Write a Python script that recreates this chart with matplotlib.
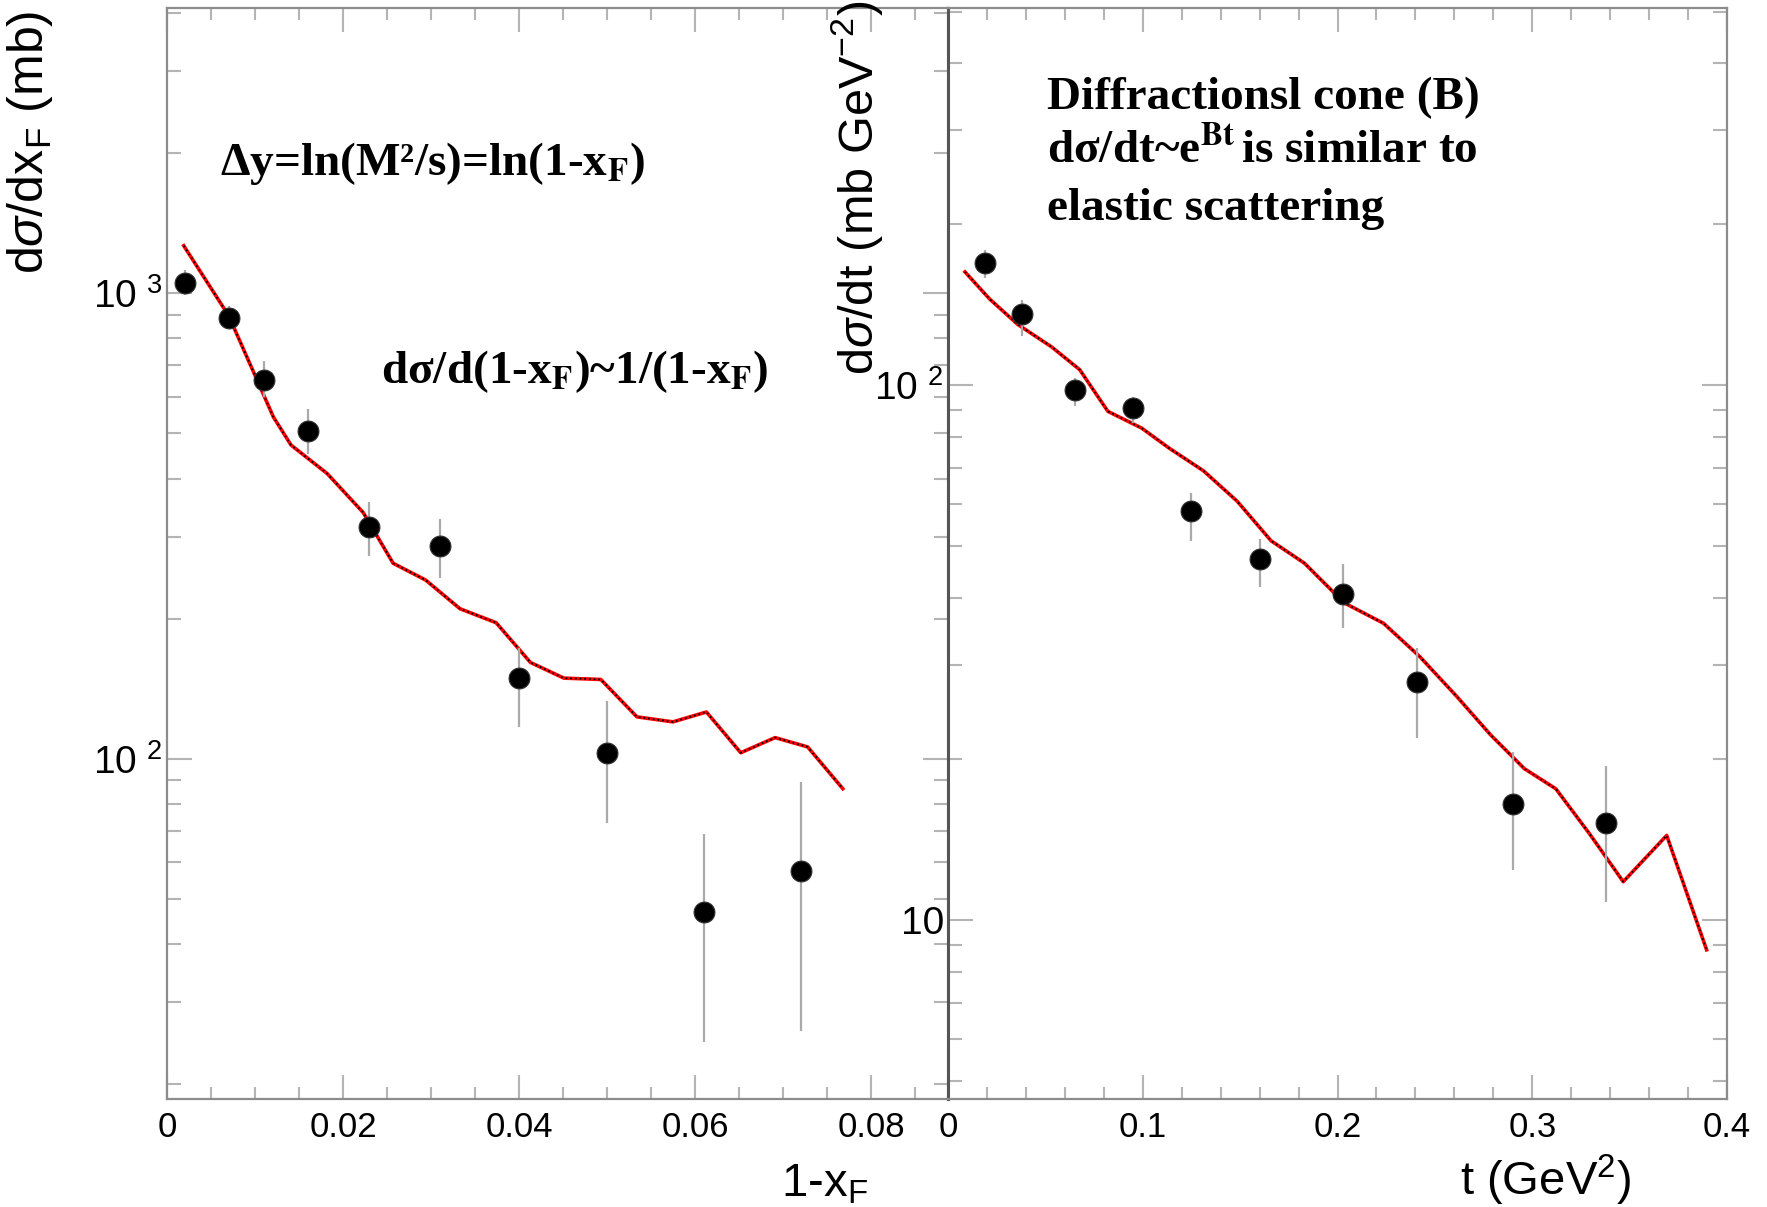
import matplotlib
matplotlib.use("Agg")
import numpy as np
import matplotlib.pyplot as plt
from matplotlib.ticker import MultipleLocator, LogLocator, FuncFormatter, NullFormatter

# left panel: d sigma / d x_F versus 1-x_F
xf_pts = [0.002, 0.007, 0.011, 0.016, 0.023, 0.031, 0.040, 0.050, 0.061, 0.072]
xf_val = [1053, 885, 652, 505, 314, 287, 149, 103, 46.9, 57.3]
xf_lo = [990, 838, 600, 451, 273, 244, 117, 72.9, 24.6, 26.0]
xf_hi = [1120, 937, 717, 564, 357, 328, 173, 133, 68.9, 89.1]

xf_mc_x = [0.0019, 0.0070, 0.0121, 0.0141, 0.0182, 0.0223, 0.0257, 0.0294, 0.0333,
           0.0374, 0.0413, 0.0451, 0.0493, 0.0534, 0.0575, 0.0613, 0.0652, 0.0691,
           0.0728, 0.0768]
xf_mc_y = [1266, 896, 542, 472, 410, 338, 263, 242, 210, 196, 161, 149, 148, 123,
           120, 126, 103, 111, 106, 86.2]

# right panel: d sigma / dt versus t
t_pts = [0.019, 0.038, 0.065, 0.095, 0.125, 0.160, 0.203, 0.241, 0.290, 0.338]
t_val = [169.6, 135.7, 98.0, 90.7, 58.3, 47.4, 40.7, 27.9, 16.5, 15.2]
t_lo = [159, 123.7, 91.6, 85.2, 51.2, 42.0, 35.2, 21.9, 12.4, 10.8]
t_hi = [179, 144.5, 103.4, 95.2, 63.0, 51.7, 46.4, 32.3, 20.6, 19.4]

t_mc_x = [0.0087, 0.0214, 0.0358, 0.0532, 0.0676, 0.0821, 0.0994, 0.1138, 0.1312,
          0.1485, 0.1659, 0.1830, 0.2034, 0.2236, 0.2422, 0.2612, 0.2786, 0.2959,
          0.3121, 0.3294, 0.3467, 0.3690, 0.3895]
t_mc_y = [163, 145, 130, 118, 107, 89.4, 83.2, 76.2, 69.2, 60.7, 51.2, 46.5, 39.2,
          35.9, 31.1, 26.2, 22.2, 19.2, 17.6, 14.5, 11.8, 14.4, 8.8]

plt.rcParams['font.family'] = ['Liberation Sans', 'DejaVu Sans']
plt.rcParams['mathtext.fontset'] = 'custom'
plt.rcParams['mathtext.rm'] = 'Liberation Sans'
plt.rcParams['mathtext.it'] = 'Liberation Sans:italic'
plt.rcParams['mathtext.bf'] = 'Liberation Sans:bold'

SPINE = '#8c8c8c'
TICK = '#b4b4b4'

fig = plt.figure(figsize=(17.67, 12.07), dpi=100)
ax1 = fig.add_axes([0.0945, 0.0895, 0.4420, 0.9036])
ax2 = fig.add_axes([0.5365, 0.0895, 0.4409, 0.9036])


def ylab(v, pos):
    e = int(round(np.log10(v)))
    if e == 1:
        return "10"
    return r"$10^{\;\,%d}$" % e


def style(ax, xmajor, xminor):
    ax.set_yscale('log')
    for s in ax.spines.values():
        s.set_color(SPINE)
        s.set_linewidth(1.6)
    ax.xaxis.set_major_locator(MultipleLocator(xmajor))
    ax.xaxis.set_minor_locator(MultipleLocator(xminor))
    ax.yaxis.set_major_locator(LogLocator(base=10))
    ax.yaxis.set_minor_locator(LogLocator(base=10, subs=np.arange(2, 10)))
    ax.yaxis.set_major_formatter(FuncFormatter(ylab))
    ax.yaxis.set_minor_formatter(NullFormatter())
    ax.tick_params(which='both', direction='in', top=True, right=True,
                   color=TICK, width=1.5)
    ax.tick_params(axis='x', which='major', length=17, pad=9, labelsize=25)
    ax.tick_params(axis='x', which='minor', length=8.5)
    ax.tick_params(axis='y', which='major', length=18, pad=3, labelsize=28)
    ax.tick_params(axis='y', which='minor', length=10)
    for lab in ax.get_xticklabels():
        lab.set_fontfamily(['Liberation Sans Narrow', 'Liberation Sans'])


def draw(ax, x, v, lo, hi, mx, my):
    v = np.array(v)
    err = [v - np.array(lo), np.array(hi) - v]
    ax.plot(mx, my, color='red', lw=2.6, zorder=2)
    ax.plot(mx, my, color='black', lw=1.3, dashes=(1, 1.6), zorder=3)
    ax.errorbar(x, v, yerr=err, fmt='none', ecolor='#aaaaaa', elinewidth=1.6,
                capsize=0, zorder=4)
    ax.plot(x, v, 'o', color='black', ms=15, mec='#333333', mew=0.8, zorder=5)


draw(ax1, xf_pts, xf_val, xf_lo, xf_hi, xf_mc_x, xf_mc_y)
draw(ax2, t_pts, t_val, t_lo, t_hi, t_mc_x, t_mc_y)

style(ax1, 0.02, 0.005)
style(ax2, 0.1, 0.02)
ax1.set_xlim(0, 0.08875)
ax1.set_ylim(18.57, 4097)
ax2.set_xlim(0, 0.4)
ax2.set_ylim(4.63, 507)
ax1.xaxis.set_major_formatter(FuncFormatter(lambda v, p: "0" if v == 0 else "%g" % round(v, 3)))
ax2.xaxis.set_major_formatter(FuncFormatter(lambda v, p: "0" if v == 0 else "%g" % round(v, 2)))
ax1.spines['right'].set_color('#555555')
ax2.spines['left'].set_color('#555555')
ax1.spines['right'].set_linewidth(2.2)
ax2.spines['left'].set_linewidth(2.2)

# axis titles
fig.text(30 / 1767, 1 - 11 / 1207, r"d$\sigma$/dx$_{\rm F}$ (mb)", rotation=90,
         ha='center', va='top', fontsize=36)
fig.text(857 / 1767, 0.999, r"d$\sigma$/dt (mb GeV$^{-2}$)", rotation=90,
         ha='center', va='top', fontsize=35)
fig.text(868 / 1767, 1 - 1197 / 1207, r"1-x$_{\rm F}$", ha='right',
         va='baseline', fontsize=34)
fig.text(1631 / 1767, 1 - 1195 / 1207, r"t (GeV$^{2}$)", ha='right',
         va='baseline', fontsize=34)

# annotations
serif = dict(family='Liberation Serif', weight='bold', fontsize=34,
             math_fontfamily='stix', va='baseline', ha='left')
fig.text(220 / 1767, 1 - 175 / 1207, r"Δy=ln(M²/s)=ln(1-x$_\mathbf{F}$)", **serif)
fig.text(381 / 1767, 1 - 383 / 1207, r"dσ/d(1-x$_\mathbf{F}$)~1/(1-x$_\mathbf{F}$)", **serif)
fig.text(1047 / 1767, 1 - 109 / 1207, "Diffractionsl cone (B)", **serif)
fig.text(1047 / 1767, 1 - 164 / 1207, r"dσ/dt~e$^\mathbf{Bt}\,$is similar to", **serif)
fig.text(1047 / 1767, 1 - 220 / 1207, "elastic scattering", **serif)

fig.savefig("out.png", dpi=100)
